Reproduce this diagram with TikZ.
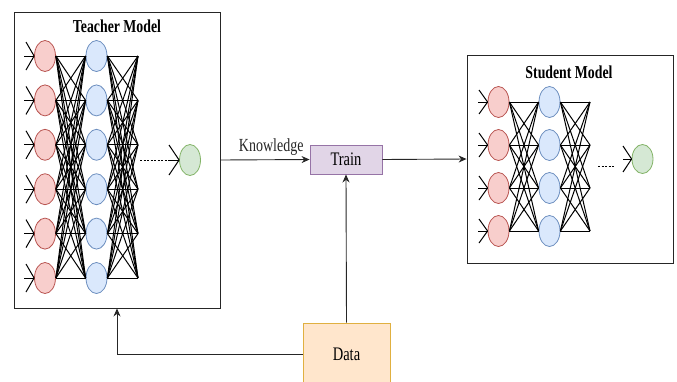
\documentclass[tikz,border=0pt]{standalone}
\usepackage{fontspec}
\setmainfont{Liberation Serif}
\usetikzlibrary{shapes.geometric,arrows.meta}
\definecolor{redf}{HTML}{F8CECC}\definecolor{redd}{HTML}{B85450}
\definecolor{bluef}{HTML}{DAE8FC}\definecolor{blued}{HTML}{6C8EBF}
\definecolor{greenf}{HTML}{D5E8D4}\definecolor{greend}{HTML}{82B366}
\definecolor{purf}{HTML}{E1D5E7}\definecolor{purd}{HTML}{9673A6}
\definecolor{orf}{HTML}{FFE6CC}\definecolor{ord}{HTML}{E0B040}
\newcommand\vstretch[1]{\scalebox{1}[1.32]{#1}}
\begin{document}
\begin{tikzpicture}[x=1pt,y=-1pt,
  neuron/.style={ellipse,minimum width=21pt,minimum height=31pt,inner sep=0pt,line width=0.8pt},
  redn/.style={neuron,fill=redf,draw=redd},
  bluen/.style={neuron,fill=bluef,draw=blued},
  greenn/.style={neuron,fill=greenf,draw=greend},
  net/.style={black,line width=1pt},
  modelbox/.style={draw=black!85,line width=0.9pt,fill=white,inner sep=0pt},
  procbox/.style={draw,line width=0.9pt,inner sep=0pt,font=\fontsize{14.5}{16}\selectfont},
  title/.style={font=\bfseries\fontsize{13.8}{15}\selectfont},
  arr/.style={line width=0.9pt,black!85,-{Stealth[length=8pt,width=7pt]}}
]
\useasboundingbox (0,0) rectangle (677,381);
% boxes
\node[modelbox,minimum width=206pt,minimum height=296pt] (teacher) at (117,160) {};
\node[modelbox,minimum width=206pt,minimum height=208pt] (student) at (570,159) {};
\node[procbox,fill=purf,draw=purd,minimum width=72pt,minimum height=29pt] (train) at (346,159.5) {\vstretch{Train}};
\node[procbox,fill=orf,draw=ord,minimum width=87pt,minimum height=62pt] (data) at (346.5,354) {\vstretch{Data}};
\node[title] (ttitle) at (117,26) {\vstretch{Teacher Model}};
\node[title] (stitle) at (569,72) {\vstretch{Student Model}};
% teacher network
\foreach \i/\y in {1/56,2/100.4,3/144.8,4/189.2,5/233.6,6/278} {
  \node[redn] (tr\i) at (45,\y) {};
  \node[bluen] (tb\i) at (96.5,\y) {};
  \coordinate (tc\i) at (138,\y);
  \coordinate (ts\i) at (24,\y);
  \coordinate (tu\i) at (26,\y-14);
  \coordinate (tl\i) at (26,\y+14);
}
\foreach \i in {1,...,6} {
  \draw[net] (ts\i) -- (tr\i.west);
  \draw[net] (tu\i) -- (tr\i.west);
  \draw[net] (tl\i) -- (tr\i.west);
  \foreach \j in {1,...,6} {
    \draw[net] (tr\i.east) -- (tb\j.west);
    \draw[net] (tb\i.east) -- (tc\j);
  }
}
\node[greenn] (tg) at (190,160) {};
\coordinate (td1) at (140,160);
\coordinate (td2) at (169,160);
\coordinate (tgu) at (169,145);
\coordinate (tgl) at (169,175);
\draw[net,dash pattern=on 2pt off 1.5pt] (td1) -- (td2);
\draw[net] (td2) -- (tg.west);
\draw[net] (tgu) -- (tg.west);
\draw[net] (tgl) -- (tg.west);
% student network
\foreach \i/\y in {1/102,2/145,3/188,4/231} {
  \node[redn] (sr\i) at (498.5,\y) {};
  \node[bluen] (sb\i) at (549.5,\y) {};
  \coordinate (sc\i) at (590,\y);
  \coordinate (ss\i) at (478,\y);
  \coordinate (su\i) at (479,\y-12);
  \coordinate (sl\i) at (479,\y+12);
}
\foreach \i in {1,...,4} {
  \draw[net] (ss\i) -- (sr\i.west);
  \draw[net] (su\i) -- (sr\i.west);
  \draw[net] (sl\i) -- (sr\i.west);
  \foreach \j in {1,...,4} {
    \draw[net] (sr\i.east) -- (sb\j.west);
    \draw[net] (sb\i.east) -- (sc\j);
  }
}
\node[greenn,minimum height=29pt] (sg) at (642.5,159) {};
\coordinate (sd1) at (598,166);
\coordinate (sd2) at (614,166);
\coordinate (sgs) at (623,159);
\coordinate (sgu) at (623,146);
\coordinate (sgl) at (623,172);
\draw[net,dash pattern=on 2pt off 1.5pt] (sd1) -- (sd2);
\draw[net] (sgs) -- (sg.west);
\draw[net] (sgu) -- (sg.west);
\draw[net] (sgl) -- (sg.west);
% connectors
\draw[arr] (teacher.east) -- node[pos=0.57,above=0pt,font=\fontsize{14}{16}\selectfont] (kn) {\vstretch{Knowledge}} (train.west);
\draw[arr] (train.east) -- (student.west);
\draw[arr] (data.north) -- (train.south);
\draw[arr] (data.west) -| (teacher.south);
\end{tikzpicture}
\end{document}
